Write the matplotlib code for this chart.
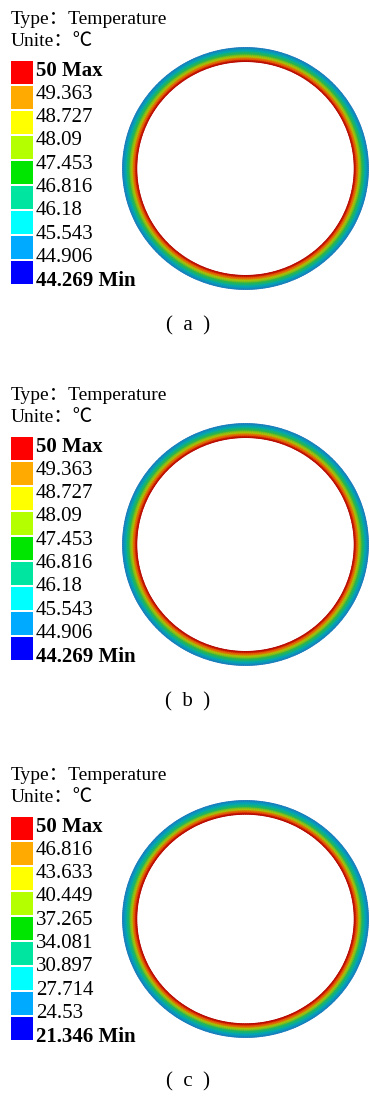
import numpy as np
import matplotlib.pyplot as plt
from matplotlib.colors import LinearSegmentedColormap
from matplotlib.patches import Rectangle

plt.rcParams['font.family'] = ['Liberation Serif', 'Noto Sans CJK SC', 'DejaVu Sans']

# legend levels of each panel (max -> min)
levels_a = [50, 49.363, 48.727, 48.09, 47.453, 46.816, 46.18, 45.543, 44.906, 44.269]
levels_b = [50, 49.363, 48.727, 48.09, 47.453, 46.816, 46.18, 45.543, 44.906, 44.269]
levels_c = [50, 46.816, 43.633, 40.449, 37.265, 34.081, 30.897, 27.714, 24.53, 21.346]
captions = ['(  a  )', '(  b  )', '(  c  )']

legend_colors = ['#ff0000', '#ffaa00', '#ffff00', '#b4ff00', '#00e600',
                 '#00e6a0', '#00ffff', '#00aaff', '#0000ff']

# radial temperature profile across the pipe wall (inner -> outer, fraction of outer radius)
ring_radius = [0.885, 0.905, 0.925, 0.95, 0.975, 1.0]
ring_temp_a = [50, 49.5, 48.4, 47.0, 45.6, 44.269]
ring_temp_b = [50, 49.5, 48.4, 47.0, 45.6, 44.269]
ring_temp_c = [50, 47.6, 41.9, 34.0, 27.5, 21.346]

ring_cmap = LinearSegmentedColormap.from_list('ring', [
    (0.0, (0.12, 0.47, 0.75)),
    (0.15, (0.0, 0.63, 0.78)),
    (0.35, (0.0, 0.73, 0.58)),
    (0.5, (0.2, 0.71, 0.24)),
    (0.7, (0.67, 0.78, 0.0)),
    (0.87, (0.94, 0.6, 0.0)),
    (0.95, (0.9, 0.1, 0.05)),
    (1.0, (0.7, 0.0, 0.0)),
])

W, H = 370, 1096
fig = plt.figure(figsize=(W / 100, H / 100), dpi=100)

panels = [(levels_a, ring_temp_a, 0, (122, 47, 369, 290)),
          (levels_b, ring_temp_b, 376, (122, 423, 369, 666)),
          (levels_c, ring_temp_c, 756, (122, 800, 369, 1038))]

# ring plots
theta = np.linspace(0, 2 * np.pi, 361)
for (levels, temps, off, box), cap in zip(panels, captions):
    x0, y0, x1, y1 = box
    ax = fig.add_axes([x0 / W, 1 - y1 / H, (x1 - x0) / W, (y1 - y0) / H])
    R, T = np.meshgrid(ring_radius, theta)
    C = np.tile(temps, (len(theta), 1))
    ax.pcolormesh(R * np.cos(T), R * np.sin(T), C, cmap=ring_cmap,
                  vmin=levels[-1], vmax=levels[0], shading='gouraud')
    ax.set_xlim(-1.005, 1.005)
    ax.set_ylim(-1.005, 1.005)
    ax.axis('off')

# text / legend overlay in pixel coordinates
ov = fig.add_axes([0, 0, 1, 1])
ov.set_xlim(0, W)
ov.set_ylim(H, 0)
ov.axis('off')
for (levels, temps, off, box), cap in zip(panels, captions):
    ov.text(11, 19 + off, 'Type：Temperature', fontsize=14, va='center', ha='left')
    ov.text(11, 42 + off, 'Unite：℃', fontsize=14, va='center', ha='left')
    for i, c in enumerate(legend_colors):
        ov.add_patch(Rectangle((11, 61 + off + i * 25), 22, 23, color=c, lw=0))
    for i, v in enumerate(levels):
        lab = str(v)
        weight = 'normal'
        if i == 0:
            lab = lab + ' Max'
            weight = 'bold'
        elif i == len(levels) - 1:
            lab = lab + ' Min'
            weight = 'bold'
        ov.text(36, 71 + off + i * 23.3, lab, fontsize=15, va='center', ha='left',
                fontweight=weight)
    ov.text(188, 326 + off, cap, fontsize=15, va='center', ha='center')

fig.savefig('out.png', dpi=100)
